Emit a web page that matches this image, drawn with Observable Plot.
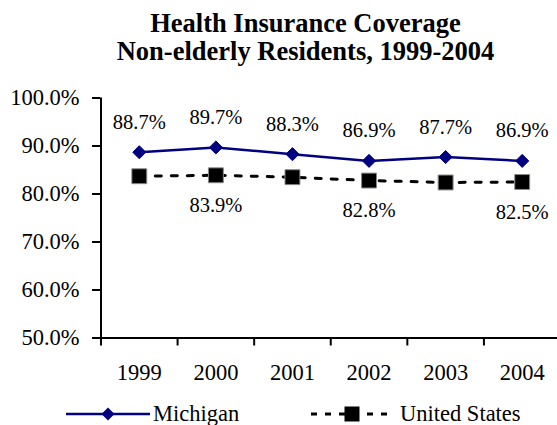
<!DOCTYPE html>
<html><head><meta charset="utf-8">
<script src="https://cdn.jsdelivr.net/npm/d3@7"></script>
<script src="https://cdn.jsdelivr.net/npm/@observablehq/plot@0.6"></script>
<style>
body{margin:0;background:#fff;}
#wrap{position:relative;width:557px;height:425px;overflow:hidden;font-family:"Liberation Serif","Times New Roman",serif;color:#000;background:#fff;}
#title{padding-top:9px;padding-left:54px;text-align:center;font-weight:bold;font-size:26.5px;line-height:28px;height:55px;}
#chart{height:328px;}
#chart svg text{font-family:"Liberation Serif","Times New Roman",serif !important;}
#chart svg g[aria-label="y-axis tick label"] text{font-size:22.5px !important;}
#chart svg g[aria-label="x-axis tick label"] text{font-size:22.5px !important;}
#chart svg g[aria-label="text"] text{font-size:20.5px !important;}
.leg{position:absolute;top:401px;height:26px;line-height:26px;font-size:22.5px;white-space:nowrap;font-family:"Liberation Serif","Times New Roman",serif;}
.sw{position:absolute;top:404px;}
</style></head>
<body>
<div id="wrap">
  <div id="title">Health Insurance Coverage<br>Non-elderly Residents, 1999-2004</div>
  <div id="chart"></div>
</div>
<script>
const years = [1999, 2000, 2001, 2002, 2003, 2004];
const michigan = [88.7, 89.7, 88.3, 86.9, 87.7, 86.9];
const unitedStates = [83.7, 83.9, 83.5, 82.8, 82.4, 82.5];
const usLabelled = [false, true, false, true, false, true];
const yTicks = [50, 60, 70, 80, 90, 100];
const seriesNames = ["Michigan", "United States"];
const seriesColors = ["#000080", "#000000"];

const rows = years.map((year, i) => ({year, michigan: michigan[i], us: unitedStates[i], usLabel: usLabelled[i]}));
const boundaries = years.map(y => y - 0.5).concat([years[years.length - 1] + 0.5]);
const pct = v => v.toFixed(1) + "%";
const serif = "'Liberation Serif', 'Times New Roman', serif";

const chart = Plot.plot({
  width: 557,
  height: 328,
  marginTop: 33.5,
  marginBottom: 54.5,
  marginLeft: 100,
  marginRight: 0,
  style: {fontFamily: serif, fontSize: "22px", background: "white", color: "black", overflow: "visible"},
  x: {type: "linear", domain: [boundaries[0], boundaries[boundaries.length - 1]], range: [100.5, 560], label: null},
  y: {domain: [50, 100], label: null},
  marks: [
    Plot.axisY({ticks: yTicks, tickSize: 8, tickPadding: 13, tickFormat: pct, stroke: "black", fill: "black", strokeWidth: 2}),
    Plot.axisX({ticks: boundaries, tickSize: 8, tickFormat: () => "", stroke: "black", strokeWidth: 2}),
    Plot.axisX({ticks: years, tickSize: 0, tickPadding: 26, tickFormat: d => String(d), fill: "black"}),
    Plot.ruleX([boundaries[0]], {stroke: "black", strokeWidth: 2}),
    Plot.ruleY([yTicks[0]], {stroke: "black", strokeWidth: 2}),
    Plot.line(rows, {x: "year", y: "us", stroke: seriesColors[1], strokeWidth: 3, strokeDasharray: "6,10"}),
    Plot.line(rows, {x: "year", y: "michigan", stroke: seriesColors[0], strokeWidth: 2.5}),
    Plot.dot(rows, {x: "year", y: "us", symbol: "square", r: 8.4, fill: seriesColors[1], stroke: "#888", strokeWidth: 1}),
    Plot.dot(rows, {x: "year", y: "michigan", symbol: "diamond2", r: 5.9, fill: seriesColors[0], stroke: seriesColors[0], strokeWidth: 1}),
    Plot.text(rows, {x: "year", y: "michigan", text: d => pct(d.michigan), dy: -30, lineAnchor: "middle", fill: "black"}),
    Plot.text(rows.filter(d => d.usLabel), {x: "year", y: "us", text: d => pct(d.us), dy: 30, lineAnchor: "middle", fill: "black"})
  ]
});
document.getElementById("chart").appendChild(chart);

// legend
const wrap = document.getElementById("wrap");
const ns = "http://www.w3.org/2000/svg";
function swatch(left, width, color, dash, symbol) {
  const s = document.createElementNS(ns, "svg");
  s.setAttribute("width", width); s.setAttribute("height", 20);
  s.setAttribute("class", "sw"); s.style.left = left + "px";
  const l = document.createElementNS(ns, "line");
  l.setAttribute("x1", 0); l.setAttribute("x2", width); l.setAttribute("y1", 10); l.setAttribute("y2", 10);
  l.setAttribute("stroke", color); l.setAttribute("stroke-width", dash ? 3 : 2.5);
  if (dash) l.setAttribute("stroke-dasharray", dash);
  s.appendChild(l);
  const p = document.createElementNS(ns, "path");
  p.setAttribute("transform", `translate(${width / 2},10)`);
  p.setAttribute("d", d3.symbol(symbol === "square" ? d3.symbolSquare : d3.symbolDiamond2, symbol === "square" ? 225 : 108)());
  p.setAttribute("fill", color);
  s.appendChild(p);
  wrap.appendChild(s);
}
function label(left, text) {
  const d = document.createElement("div");
  d.className = "leg"; d.style.left = left + "px"; d.textContent = text;
  wrap.appendChild(d);
}
swatch(66, 84, seriesColors[0], null, "diamond");
label(153, seriesNames[0]);
swatch(311, 82, seriesColors[1], "6,8", "square");
label(400, seriesNames[1]);
</script>
</body></html>
